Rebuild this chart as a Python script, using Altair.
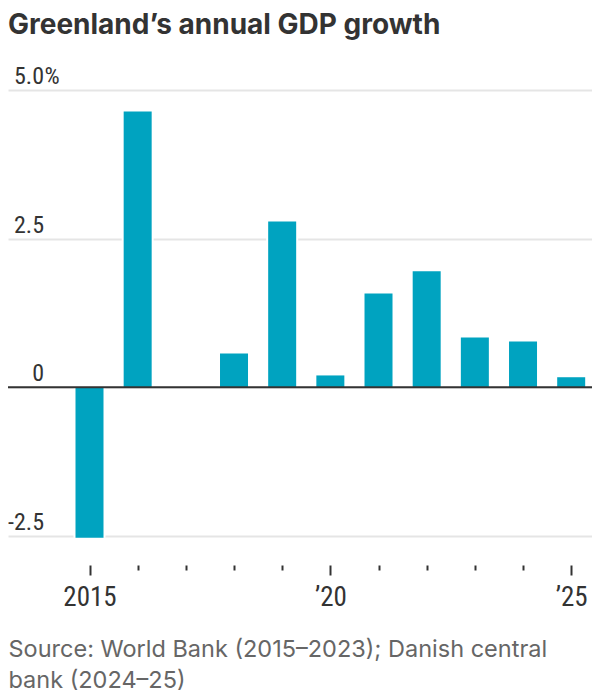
import altair as alt
import pandas as pd

# ---- data ----
years = [2015, 2016, 2017, 2018, 2019, 2020, 2021, 2022, 2023, 2024, 2025]
growth = [-2.53, 4.64, 0.0, 0.57, 2.79, 0.20, 1.58, 1.95, 0.84, 0.77, 0.17]
y_ticks = [-2.5, 0, 2.5, 5]
y_tick_labels = ["-2.5", "0", "2.5", "5.0"]
x_ticks = years
title_text = "Greenland’s annual GDP growth"
source_lines = ["Source: World Bank (2015–2023); Danish central", "bank (2024–25)"]

df = pd.DataFrame({"year": years, "growth": growth})
ylab_df = pd.DataFrame({"v": y_ticks, "label": y_tick_labels})
zero_df = pd.DataFrame({"v": [0]})
pct_df = pd.DataFrame({"v": [5]})
title_df = pd.DataFrame({"t": [title_text]})

NARROW = "Liberation Sans Narrow, Roboto Condensed, Roboto"
TITLE_FONT = "Inter, Roboto"
SRC_FONT = "Inter, Roboto"
BAR = "#00a3c0"
INK = "#333333"

x_scale = alt.Scale(domain=[2013.308, 2025.432], nice=False, zero=False, padding=0)
y_scale = alt.Scale(domain=[-2.5, 5], nice=False, zero=False, padding=0)

x_axis = alt.Axis(
    values=x_ticks,
    labelExpr="datum.value == 2015 ? '2015' : (datum.value % 5 == 0 ? '’' + substring('' + datum.value, 2) : '')",
    offset=29,
    domain=False,
    grid=False,
    ticks=True,
    tickColor=INK,
    tickWidth=2,
    tickSize={"condition": {"test": "datum.value % 5 === 0", "value": 10}, "value": 5},
    labelFont=NARROW,
    labelFontSize=27,
    labelColor=INK,
    labelPadding=9,
    labelOverlap=False,
    labelFlush=False,
    title=source_lines,
    titleFont=SRC_FONT,
    titleFontSize=23.5,
    titleFontWeight="normal",
    titleColor="#666666",
    titleAlign="left",
    titleAnchor="start",
    titleBaseline="alphabetic",
    titleX=0,
    titleY=91,
    titleLineHeight=31,
)

y_axis = alt.Axis(
    values=y_ticks,
    title=None,
    domain=False,
    ticks=False,
    labels=False,
    grid=True,
    gridColor="#e5e5e5",
    gridWidth=2,
)

base = alt.Chart(df)

gap = base.mark_bar(width=32, color="white").encode(
    x=alt.X("year:Q", scale=x_scale, axis=x_axis),
    y=alt.Y("growth:Q", scale=y_scale, axis=y_axis),
)

bars = base.mark_bar(width=28, color=BAR).encode(
    x=alt.X("year:Q", scale=x_scale),
    y=alt.Y("growth:Q", scale=y_scale),
)

zero = alt.Chart(zero_df).mark_rule(color=INK, strokeWidth=2).encode(
    y=alt.Y("v:Q", scale=y_scale),
)

ylabels = alt.Chart(ylab_df).mark_text(
    align="right", baseline="alphabetic", dy=-6, font=NARROW, fontSize=24, color=INK
).encode(
    x=alt.value(36),
    y=alt.Y("v:Q", scale=y_scale),
    text="label:N",
)

pct = alt.Chart(pct_df).mark_text(
    align="left", baseline="alphabetic", dy=-6, font=NARROW, fontSize=24, color=INK
).encode(
    x=alt.value(36.5),
    y=alt.Y("v:Q", scale=y_scale),
    text=alt.value("%"),
)

title = alt.Chart(title_df).mark_text(
    align="left", baseline="alphabetic", font=TITLE_FONT, fontSize=28, fontWeight="bold", color=INK
).encode(
    x=alt.value(0),
    y=alt.value(-56),
    text="t:N",
)

chart = (
    alt.layer(gap, bars, zero, ylabels, pct, title)
    .properties(
        width=584,
        height=446,
        padding={"top": 82, "left": 0, "right": 0, "bottom": 156},
        autosize="none",
    )
    .configure_view(stroke=None)
)

chart.save("out.html", embed_options={"renderer": "svg", "actions": False})
